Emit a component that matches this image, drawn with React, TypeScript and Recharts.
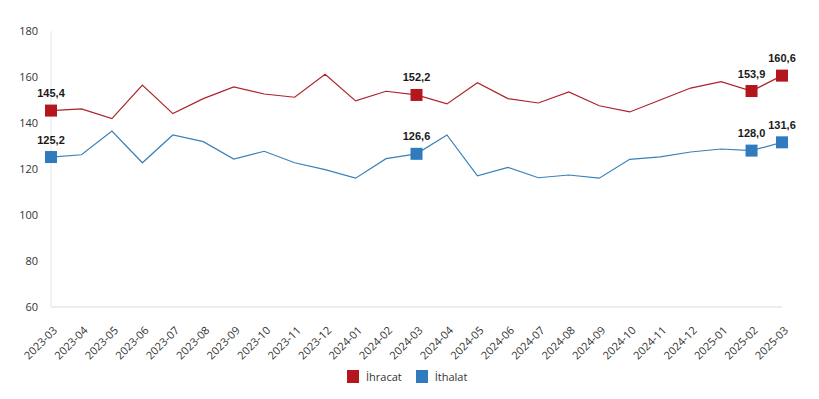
import React from "react";
import { LineChart, Line, XAxis, YAxis, Legend } from "recharts";

const months = [
  "2023-03", "2023-04", "2023-05", "2023-06", "2023-07", "2023-08", "2023-09",
  "2023-10", "2023-11", "2023-12", "2024-01", "2024-02", "2024-03", "2024-04",
  "2024-05", "2024-06", "2024-07", "2024-08", "2024-09", "2024-10", "2024-11",
  "2024-12", "2025-01", "2025-02", "2025-03",
];
const ihracat = [
  145.4, 146.1, 141.9, 156.5, 144.1, 150.6, 155.7, 152.6, 151.2, 161.2, 149.6, 153.8,
  152.2, 148.3, 157.5, 150.6, 148.7, 153.5, 147.5, 144.8, 150.0, 155.2, 158.0, 153.9, 160.6,
];
const ithalat = [
  125.2, 126.2, 136.5, 122.7, 134.8, 131.9, 124.3, 127.7, 122.7, 119.7, 116.0, 124.5,
  126.6, 134.8, 117.0, 120.7, 116.2, 117.4, 116.0, 124.2, 125.3, 127.4, 128.7, 128.0, 131.6,
];
const yTicks = [60, 80, 100, 120, 140, 160, 180];
const markedIdx = [0, 12, 23, 24];

const RED = "#b3161d";
const RED_LINE = "#ad2229";
const BLUE = "#2f7bbd";
const BLUE_LINE = "#3a80b8";

const data = months.map((m, i) => ({ month: m, ihracat: ihracat[i], ithalat: ithalat[i] }));

const fmt = (v: number) => v.toFixed(1).replace(".", ",");

const makeDot = (color: string) => (props: any) => {
  const { cx, cy, index, value } = props;
  if (!markedIdx.includes(index)) return <g key={`d${index}`} />;
  const v = Array.isArray(value) ? value[1] : value;
  return (
    <g key={`d${index}`}>
      <rect x={cx - 6} y={cy - 6} width={12} height={12} fill={color} />
      <text
        x={cx}
        y={cy - 13.5}
        textAnchor="middle"
        fontFamily="'Liberation Sans', Arial, sans-serif"
        fontWeight="bold"
        fontSize={11}
        fill="#1a1a1a"
      >
        {fmt(v)}
      </text>
    </g>
  );
};

const XTick = (props: any) => {
  const { x, y, payload } = props;
  return (
    <g transform={`translate(${x + 7},${y + 24})`}>
      <text
        x={0}
        y={0}
        textAnchor="end"
        transform="rotate(-45)"
        fontFamily="'Open Sans', sans-serif"
        fontSize={11}
        fill="#333333"
      >
        {payload.value}
      </text>
    </g>
  );
};

const LegendContent = () => (
  <div
    style={{
      display: "flex",
      alignItems: "flex-start",
      paddingLeft: 347,
      paddingTop: 1,
      fontFamily: "'Open Sans', sans-serif",
      fontSize: 11,
      lineHeight: "14px",
      color: "#333333",
      height: 30,
      boxSizing: "border-box",
    }}
  >
    <span style={{ width: 12, height: 13, background: RED, display: "inline-block" }} />
    <span style={{ marginLeft: 7, marginRight: 14 }}>İhracat</span>
    <span style={{ width: 12, height: 13, background: BLUE, display: "inline-block" }} />
    <span style={{ marginLeft: 7 }}>İthalat</span>
  </div>
);

export default function App() {
  return (
    <div style={{ position: "absolute", left: 0, top: 0, background: "#fff" }}>
      <LineChart
        width={819}
        height={399}
        data={data}
        margin={{ top: 31, right: 37, left: 0, bottom: 0 }}
      >
        <XAxis
          dataKey="month"
          interval={0}
          height={62}
          tickLine={false}
          tickSize={0}
          tickMargin={0}
          axisLine={{ stroke: "#d9d9d9" }}
          tick={<XTick />}
        />
        <YAxis
          domain={[60, 180]}
          ticks={yTicks}
          width={51}
          tickLine={false}
          tickSize={0}
          tickMargin={13}
          axisLine={{ stroke: "#e6e6e6" }}
          tick={{ fontFamily: "'Open Sans', sans-serif", fontSize: 11, fill: "#333333" }}
        />
        <Legend
          verticalAlign="bottom"
          height={30}
          content={<LegendContent />}
          wrapperStyle={{ left: 0, width: 819 }}
        />
        <Line
          type="linear"
          dataKey="ihracat"
          name="İhracat"
          stroke={RED_LINE}
          strokeWidth={1.2}
          dot={makeDot(RED)}
          activeDot={false}
          isAnimationActive={false}
        />
        <Line
          type="linear"
          dataKey="ithalat"
          name="İthalat"
          stroke={BLUE_LINE}
          strokeWidth={1.2}
          dot={makeDot(BLUE)}
          activeDot={false}
          isAnimationActive={false}
        />
      </LineChart>
    </div>
  );
}
